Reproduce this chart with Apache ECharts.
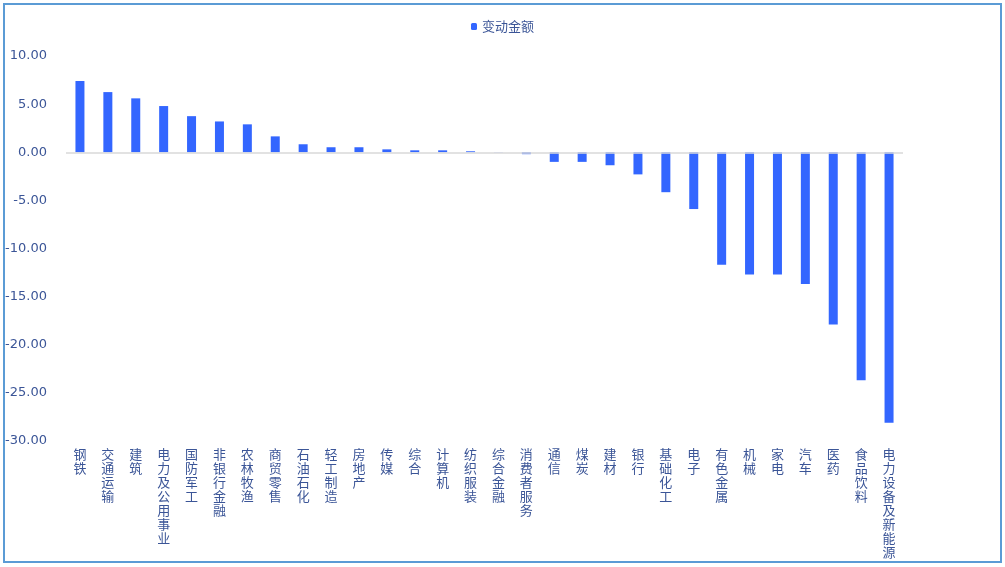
<!DOCTYPE html>
<html>
<head>
<meta charset="utf-8">
<script src="https://cdn.jsdelivr.net/npm/echarts@6/dist/echarts.min.js"></script>
<style>
html,body{margin:0;padding:0;background:#fff;}
#frame{position:absolute;left:3px;top:3px;width:995px;height:556px;border:2px solid #5b9bd5;box-sizing:content-box;}
#chart{position:absolute;left:0;top:0;width:1005px;height:567px;}
</style>
</head>
<body>
<div id="frame"></div>
<div id="chart"></div>
<script>
var categories = ['钢铁','交通运输','建筑','电力及公用事业','国防军工','非银行金融','农林牧渔','商贸零售','石油石化','轻工制造','房地产','传媒','综合','计算机','纺织服装','综合金融','消费者服务','通信','煤炭','建材','银行','基础化工','电子','有色金属','机械','家电','汽车','医药','食品饮料','电力设备及新能源'];
var values = [7.4, 6.25, 5.6, 4.8, 3.75, 3.2, 2.9, 1.65, 0.83, 0.52, 0.52, 0.3, 0.2, 0.2, 0.1, 0.02, -0.2, -1.0, -1.0, -1.35, -2.3, -4.15, -5.9, -11.7, -12.7, -12.7, -13.7, -17.9, -23.7, -28.1];
var seriesName = '变动金额';
var yTicks = {min: -30, max: 10, interval: 5};

var chart = echarts.init(document.getElementById('chart'), null, {renderer: 'canvas'});
var textColor = '#3b5597';
chart.setOption({
  animation: false,
  backgroundColor: 'transparent',
  legend: {
    data: [seriesName],
    top: 15,
    left: 'center',
    itemWidth: 6,
    itemHeight: 7,
    itemGap: 4,
    textStyle: {color: textColor, fontSize: 13, fontFamily: 'Noto Sans CJK SC'}
  },
  grid: {left: 66, right: 102, top: 56, bottom: 126, containLabel: false},
  xAxis: {
    type: 'category',
    data: categories,
    axisLine: {show: false, onZero: false},
    axisTick: {show: false},
    axisLabel: {
      interval: 0,
      margin: 6,
      color: textColor,
      fontSize: 13,
      lineHeight: 14,
      fontFamily: 'Noto Sans CJK SC',
      verticalAlign: 'top',
      formatter: function (v) { return v.split('').join('\n'); }
    }
  },
  yAxis: {
    type: 'value',
    min: yTicks.min,
    max: yTicks.max,
    interval: yTicks.interval,
    axisLine: {show: false},
    axisTick: {show: false},
    splitLine: {show: false},
    axisLabel: {
      margin: 19,
      color: textColor,
      fontSize: 13,
      fontFamily: 'DejaVu Sans',
      formatter: function (v) { return v.toFixed(2); }
    }
  },
  series: [{
    name: seriesName,
    type: 'bar',
    data: values,
    barWidth: 9,
    itemStyle: {color: '#3366ff'},
    markLine: {
      silent: true,
      symbol: ['none', 'none'],
      label: {show: false},
      lineStyle: {color: '#d9d9d9', width: 1.5, type: 'solid'},
      data: [{yAxis: 0}]
    }
  }]
});
</script>
</body>
</html>
